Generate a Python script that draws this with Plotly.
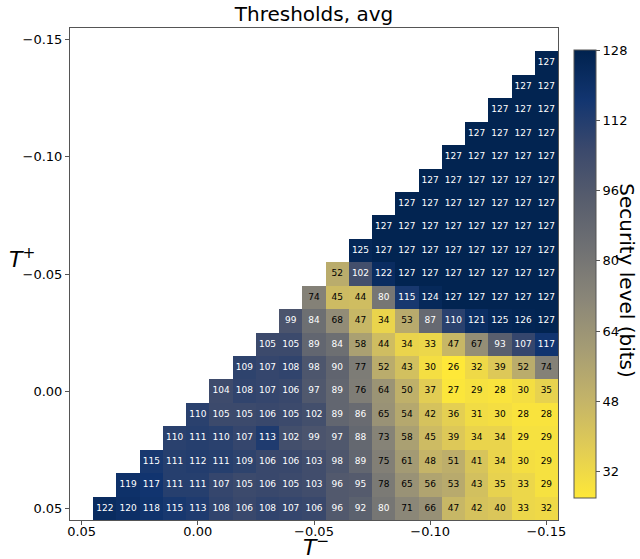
import plotly.graph_objects as go

# Axis categories (cell centres)
T_minus = [0.05, 0.04, 0.03, 0.02, 0.01, 0.00, -0.01, -0.02, -0.03, -0.04, -0.05,
           -0.06, -0.07, -0.08, -0.09, -0.10, -0.11, -0.12, -0.13, -0.14, -0.15]
T_plus = [-0.15, -0.14, -0.13, -0.12, -0.11, -0.10, -0.09, -0.08, -0.07, -0.06, -0.05,
          -0.04, -0.03, -0.02, -0.01, 0.00, 0.01, 0.02, 0.03, 0.04, 0.05]

# Each row (one per T+ value, top to bottom) read left to right; rows end at T- = -0.15
row_values = [
    [],
    [127],
    [127, 127],
    [127, 127, 127],
    [127, 127, 127, 127],
    [127, 127, 127, 127, 127],
    [127, 127, 127, 127, 127, 127],
    [127, 127, 127, 127, 127, 127, 127],
    [127, 127, 127, 127, 127, 127, 127, 127],
    [125, 127, 127, 127, 127, 127, 127, 127, 127],
    [52, 102, 122, 127, 127, 127, 127, 127, 127, 127],
    [74, 45, 44, 80, 115, 124, 127, 127, 127, 127, 127],
    [99, 84, 68, 47, 34, 53, 87, 110, 121, 125, 126, 127],
    [105, 105, 89, 84, 58, 44, 34, 33, 47, 67, 93, 107, 117],
    [109, 107, 108, 98, 90, 77, 52, 43, 30, 26, 32, 39, 52, 74],
    [104, 108, 107, 106, 97, 89, 76, 64, 50, 37, 27, 29, 28, 30, 35],
    [110, 105, 105, 106, 105, 102, 89, 86, 65, 54, 42, 36, 31, 30, 28, 28],
    [110, 111, 110, 107, 113, 102, 99, 97, 88, 73, 58, 45, 39, 34, 34, 29, 29],
    [115, 111, 112, 111, 109, 106, 106, 103, 98, 89, 75, 61, 48, 51, 41, 34, 30, 29],
    [119, 117, 111, 111, 107, 105, 106, 105, 103, 96, 95, 78, 65, 56, 53, 43, 35, 33, 29],
    [122, 120, 118, 115, 113, 108, 106, 108, 107, 106, 96, 92, 80, 71, 66, 47, 42, 40, 33, 32],
]

x_ticks = [0.05, 0.00, -0.05, -0.10, -0.15]
x_ticktext = ["0.05", "0.00", "\u22120.05", "\u22120.10", "\u22120.15"]
y_ticks = [-0.15, -0.10, -0.05, 0.00, 0.05]
y_ticktext = ["\u22120.15", "\u22120.10", "\u22120.05", "0.00", "0.05"]
cbar_ticks = [32, 48, 64, 80, 96, 112, 128]

ncol = len(T_minus)
z = []
tx, ty, tt, tc = [], [], [], []
for i, row in enumerate(row_values):
    zr = [None] * ncol
    start = ncol - len(row)
    for k, v in enumerate(row):
        j = start + k
        zr[j] = v
        tx.append(T_minus[j])
        ty.append(T_plus[i])
        tt.append(str(v))
        tc.append("white" if v >= 79 else "black")
    z.append(zr)

FONT = "DejaVu Sans"
AX = "#555555"
L, R, T, B = 70, 560, 28, 520
PW, PH = R - L, B - T

fig = go.Figure()
fig.add_trace(go.Heatmap(
    x=T_minus, y=T_plus, z=z,
    colorscale="cividis", reversescale=True,
    zmin=26, zmax=128,
    hoverongaps=False,
    colorbar=dict(
        x=(576 - L) / PW, xanchor="left", xpad=0,
        y=0.5, yanchor="middle", len=448 / PH, lenmode="fraction",
        thickness=22, ypad=0,
        outlinewidth=1, outlinecolor=AX,
        tickvals=cbar_ticks, ticks="outside", ticklen=4, tickcolor=AX,
        tickfont=dict(family=FONT, size=13, color="black"),
    ),
))
fig.add_trace(go.Scatter(
    x=tx, y=ty, text=tt, mode="text",
    textfont=dict(family=FONT, size=9, color=tc),
    hoverinfo="skip", showlegend=False,
))

fig.update_layout(
    width=640, height=559,
    margin=dict(l=L, r=640 - R, t=T, b=559 - B),
    paper_bgcolor="white", plot_bgcolor="white",
    showlegend=False,
    title=dict(text="Thresholds, avg", x=0.5, xref="paper", xanchor="center",
               y=1 - 14 / 559, yref="container", yanchor="middle",
               font=dict(family=FONT, size=20, color="black")),
    xaxis=dict(range=[0.055, -0.155], tickvals=x_ticks, ticktext=x_ticktext,
               showgrid=False, zeroline=False, showline=True, mirror=True,
               linecolor=AX, linewidth=1, ticks="outside", ticklen=4, tickcolor=AX,
               ticklabelstandoff=-5,
               tickfont=dict(family=FONT, size=13, color="black")),
    yaxis=dict(range=[0.055, -0.155], tickvals=y_ticks, ticktext=y_ticktext,
               showgrid=False, zeroline=False, showline=True, mirror=True,
               linecolor=AX, linewidth=1, ticks="outside", ticklen=4, tickcolor=AX,
               tickfont=dict(family=FONT, size=13, color="black")),
    annotations=[
        dict(text="<i>T</i><sup>\u2212</sup>", xref="paper", yref="paper",
             x=(317 - L) / PW, y=-(546 - B) / PH, xanchor="center", yanchor="middle",
             showarrow=False, font=dict(family=FONT, size=22, color="black")),
        dict(text="<i>T</i><sup>+</sup>", xref="paper", yref="paper",
             x=-(L - 22) / PW, y=(B - 258) / PH, xanchor="center", yanchor="middle",
             showarrow=False, font=dict(family=FONT, size=22, color="black")),
        dict(text="Security level (bits)", xref="paper", yref="paper",
             x=(629 - L) / PW, y=(B - 281) / PH, xanchor="center", yanchor="middle",
             textangle=90, showarrow=False, font=dict(family=FONT, size=20, color="black")),
    ],
)

fig.write_html("out.html")
